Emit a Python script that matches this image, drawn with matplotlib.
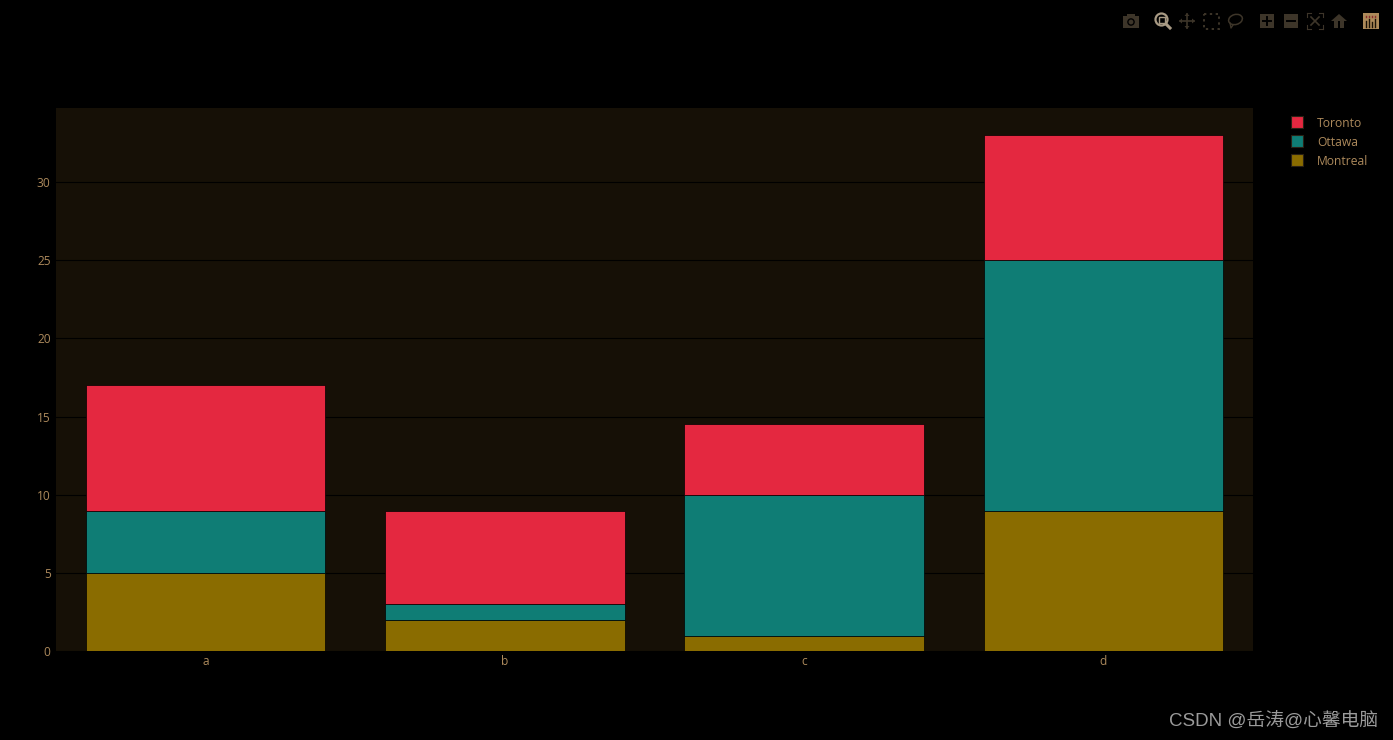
import matplotlib
matplotlib.use("Agg")
import matplotlib.pyplot as plt
from matplotlib.patches import Rectangle, Circle, Polygon, Ellipse

categories = ["a", "b", "c", "d"]
montreal = [5, 2, 1, 9]
ottawa = [4, 1, 9, 16]
toronto = [8, 6, 4.5, 8]
y_ticks = [0, 5, 10, 15, 20, 25, 30]
series_names = ["Toronto", "Ottawa", "Montreal"]
watermark = "CSDN @岳涛@心馨电脑"

W, H = 1393, 740
BLACK = "#000000"
PLOT_BG = "#161006"
RED, TEAL, GOLD = "#e42840", "#0f7d75", "#8a6c00"
TXT = "#ad8a5c"
ICON = "#3d3529"

plt.rcParams["font.family"] = ["Open Sans", "DejaVu Sans"]
fig = plt.figure(figsize=(W / 100, H / 100), dpi=100, facecolor=BLACK)
ax = fig.add_axes([56.2 / W, 1 - 651.4 / H, (1252.8 - 56.2) / W, (651.4 - 107.6) / H], facecolor=PLOT_BG)

xs = range(len(categories))
bottoms2 = [m + o for m, o in zip(montreal, ottawa)]
kw = dict(width=0.8, edgecolor="#000000", linewidth=0.5, zorder=3)
ax.bar(xs, montreal, color=GOLD, **kw)
ax.bar(xs, ottawa, bottom=montreal, color=TEAL, **kw)
ax.bar(xs, toronto, bottom=bottoms2, color=RED, **kw)

ax.set_xlim(-0.5, 3.5)
ax.set_ylim(0, 34.74)
ax.set_xticks(list(xs), categories)
ax.set_yticks(y_ticks)
ax.grid(axis="y", color="#000000", linewidth=0.8, zorder=1)
ax.set_axisbelow(True)
ax.tick_params(length=0, colors=TXT, labelsize=8.6)
ax.tick_params(axis="x", pad=2.5)
ax.tick_params(axis="y", pad=4)
for s in ax.spines.values():
    s.set_visible(False)

# overlay in pixel coordinates for legend, modebar and watermark
ov = fig.add_axes([0, 0, 1, 1], facecolor="none")
ov.set_xlim(0, W)
ov.set_ylim(H, 0)
ov.axis("off")

for name, col, y in zip(series_names, [RED, TEAL, GOLD], [122, 141, 160]):
    ov.add_patch(Rectangle((1291, y - 6), 12, 12, facecolor=col, edgecolor="#2a2115", linewidth=0.8))
    ov.text(1317, y + 1.4, name, color=TXT, fontsize=8.7, va="center", ha="left")

# camera
ov.add_patch(Rectangle((1123, 16), 16, 12, facecolor=ICON, edgecolor="none"))
ov.add_patch(Rectangle((1127, 14), 8, 3, facecolor=ICON, edgecolor="none"))
ov.add_patch(Circle((1131, 22), 3.8, facecolor=BLACK, edgecolor="none"))
ov.add_patch(Circle((1131, 22), 2.4, facecolor=ICON, edgecolor="none"))
# zoom (active)
ACT = "#a89a84"
ov.add_patch(Circle((1161.5, 19.5), 6, facecolor="none", edgecolor=ACT, linewidth=1.6))
ov.add_patch(Rectangle((1158.5, 16.5), 6, 6, facecolor="none", edgecolor=ACT, linewidth=1))
ov.plot([1166, 1170], [24, 28], color=ACT, linewidth=2.2)
# pan
ov.plot([1180, 1194], [21, 21], color=ICON, linewidth=1.2)
ov.plot([1187, 1187], [14, 28], color=ICON, linewidth=1.2)
for pts in ([(1179, 21), (1182, 18.5), (1182, 23.5)], [(1195, 21), (1192, 18.5), (1192, 23.5)],
            [(1187, 13), (1184.5, 16), (1189.5, 16)], [(1187, 29), (1184.5, 26), (1189.5, 26)]):
    ov.add_patch(Polygon(pts, facecolor=ICON, edgecolor="none"))
# box select
ov.add_patch(Rectangle((1203.5, 14), 15, 14.5, facecolor="none", edgecolor=ICON, linewidth=1.4, linestyle=(0, (1.2, 1.8))))
# lasso
ov.add_patch(Ellipse((1235.5, 19.5), 14, 10, angle=-15, facecolor="none", edgecolor=ICON, linewidth=1.1))
ov.plot([1230, 1231, 1233], [23, 28, 25], color=ICON, linewidth=1)
# zoom in / out
for x, plus in ((1267, True), (1291, False)):
    ov.add_patch(Rectangle((x - 7, 14), 14, 14, facecolor=ICON, edgecolor="none"))
    ov.plot([x - 4, x + 4], [21, 21], color=BLACK, linewidth=1.4)
    if plus:
        ov.plot([x, x], [17, 25], color=BLACK, linewidth=1.4)
# autoscale
for sx, sy in ((-1, -1), (1, -1), (-1, 1), (1, 1)):
    cx, cy = 1315 + sx * 8, 21 + sy * 8
    ov.plot([cx, cx - sx * 4], [cy, cy], color=ICON, linewidth=0.8)
    ov.plot([cx, cx], [cy, cy - sy * 4], color=ICON, linewidth=0.8)
ov.plot([1311, 1319], [17, 25], color=ICON, linewidth=1.2)
ov.plot([1311, 1319], [25, 17], color=ICON, linewidth=1.2)
# home
ov.add_patch(Polygon([(1331, 21), (1339, 14), (1347, 21)], facecolor=ICON, edgecolor="none"))
ov.add_patch(Rectangle((1334, 21), 4, 7, facecolor=ICON, edgecolor="none"))
ov.add_patch(Rectangle((1340, 21), 4, 7, facecolor=ICON, edgecolor="none"))
# logo
ov.add_patch(Rectangle((1363, 13), 16, 16, facecolor="#ad8a5a", edgecolor="none"))
for x, top in ((1366, 21), (1369, 19), (1372, 22), (1375, 19)):
    ov.plot([x, x], [top, 27], color="#1a1206", linewidth=1)
    ov.plot([x, x], [15.5, 16.8], color="#8a2c2c", linewidth=1)

ov.text(1378, 721, watermark, color="#9a9a9a", fontsize=13.5, ha="right", va="center",
        family=["Liberation Sans", "Noto Sans CJK SC", "DejaVu Sans"])

fig.savefig("out.png", dpi=100, facecolor=BLACK)
